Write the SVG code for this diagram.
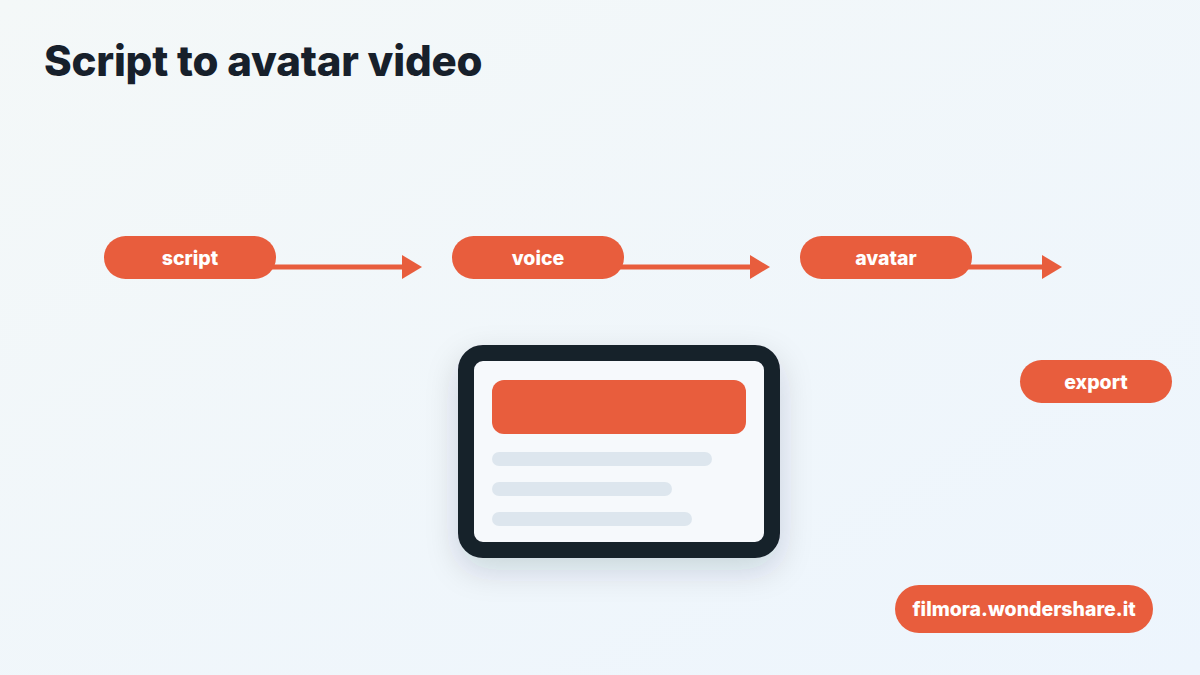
<svg xmlns="http://www.w3.org/2000/svg" width="1200" height="675" viewBox="0 0 1200 675">
<defs>
<linearGradient id="bg" x1="0" y1="0" x2="1" y2="1">
<stop offset="0" stop-color="#f4f8f8"/>
<stop offset="1" stop-color="#edf5fd"/>
</linearGradient>
<filter id="sh" x="-30%" y="-30%" width="160%" height="170%">
<feDropShadow dx="0" dy="12" stdDeviation="16" flood-color="#1a2a3a" flood-opacity="0.16"/>
</filter>
<marker id="ah" viewBox="0 0 20 24" refX="0" refY="12" markerWidth="20" markerHeight="24" markerUnits="userSpaceOnUse" orient="auto">
<path d="M0,0 L20,12 L0,24 Z" fill="#e85d3d"/>
</marker>
<style>
.pill{fill:#e85d3d}
.pt{fill:#ffffff;font-family:Inter,"Liberation Sans",sans-serif;font-weight:800;font-size:19.5px;text-anchor:middle;dominant-baseline:central}
.con{stroke:#e85d3d;stroke-width:5;fill:none}
.bar{fill:#dde6ee}
</style>
</defs>
<rect width="1200" height="675" fill="url(#bg)"/>
<text x="44" y="76" font-family="Inter,'Liberation Sans',sans-serif" font-weight="800" font-size="42" fill="#17202b" letter-spacing="-0.2">Script to avatar video</text>
<g id="connectors">
<line class="con" x1="270" y1="267" x2="402" y2="267" marker-end="url(#ah)"/>
<line class="con" x1="618" y1="267" x2="750" y2="267" marker-end="url(#ah)"/>
<line class="con" x1="966" y1="267" x2="1042" y2="267" marker-end="url(#ah)"/>
</g>
<g id="script"><rect class="pill" x="104" y="236" width="172" height="43" rx="21.5"/><text class="pt" x="190" y="258">script</text></g>
<g id="voice"><rect class="pill" x="452" y="236" width="172" height="43" rx="21.5"/><text class="pt" x="538" y="258">voice</text></g>
<g id="avatar"><rect class="pill" x="800" y="236" width="172" height="43" rx="21.5"/><text class="pt" x="886" y="258">avatar</text></g>
<g id="export"><rect class="pill" x="1020" y="360" width="152" height="43" rx="21.5"/><text class="pt" x="1096" y="382">export</text></g>
<g id="card">
<rect x="466" y="353" width="306" height="197" rx="17" fill="#f6f9fc" stroke="#17202b" stroke-width="16" filter="url(#sh)"/>
<rect x="492" y="380" width="254" height="54" rx="12" fill="#e85d3d"/>
<rect class="bar" x="492" y="452" width="220" height="14" rx="7"/>
<rect class="bar" x="492" y="482" width="180" height="14" rx="7"/>
<rect class="bar" x="492" y="512" width="200" height="14" rx="7"/>
</g>
<g id="brand"><rect class="pill" x="895" y="585" width="258" height="48" rx="24"/><text class="pt" x="1024" y="609">filmora.wondershare.it</text></g>
</svg>
